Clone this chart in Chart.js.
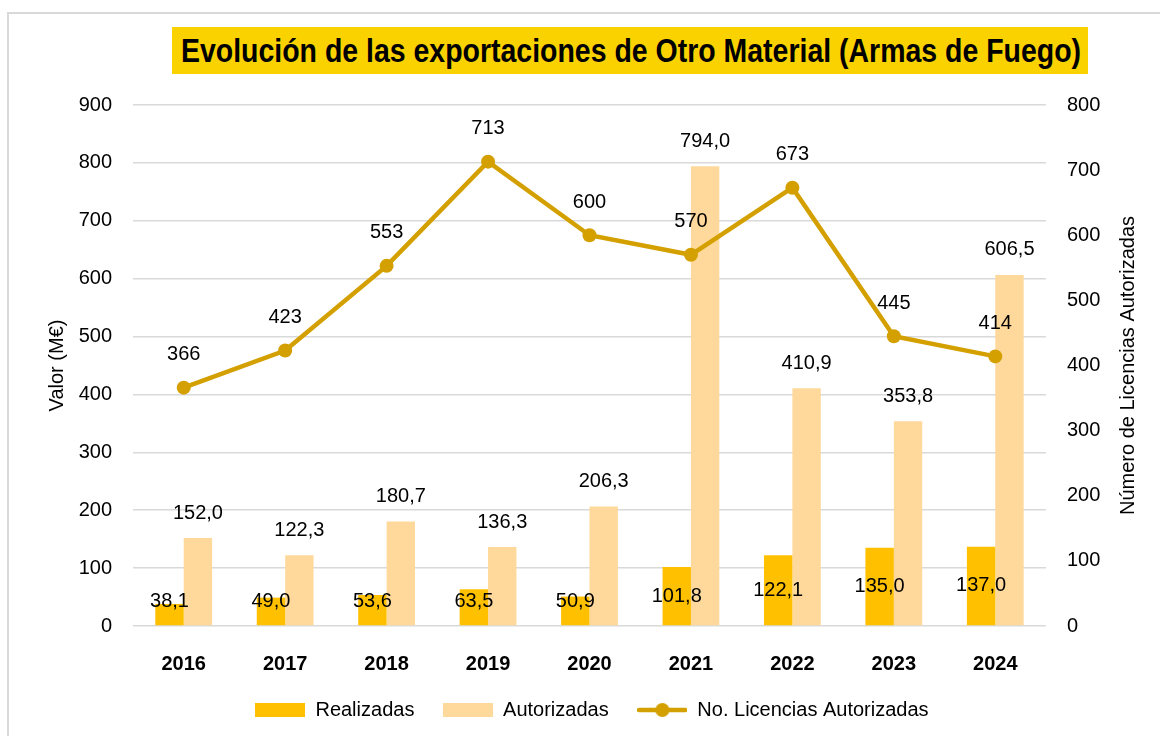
<!DOCTYPE html>
<html>
<head>
<meta charset="utf-8">
<script src="https://cdn.jsdelivr.net/npm/chart.js@4"></script>
<style>
  html, body { margin: 0; padding: 0; background: #fff; overflow: hidden; }
  #frame { position: absolute; left: 7px; top: 12px; width: 1200px; height: 800px; border: 2px solid #d9d9d9; box-sizing: border-box; }
  #title { position: absolute; left: 172px; top: 27px; width: 916px; height: 47px; background: #fad200; overflow: hidden;
    font-family: 'Liberation Sans', Arial, sans-serif; font-weight: bold;
    font-size: 33px; line-height: 47px; color: #000; white-space: nowrap; }
  #title span { display: inline-block; transform-origin: 0 50%; }
  #wrap { position: absolute; left: 0; top: 0; width: 1160px; height: 736px; }
</style>
</head>
<body>
<div id="frame"></div>
<div id="wrap"><canvas id="myChart"></canvas></div>
<div id="title"><span id="titleText">Evolución de las exportaciones de Otro Material (Armas de Fuego)</span></div>
<script>
const years = ["2016", "2017", "2018", "2019", "2020", "2021", "2022", "2023", "2024"];
const realizadas = [38.1, 49.0, 53.6, 63.5, 50.9, 101.8, 122.1, 135.0, 137.0];
const autorizadas = [152.0, 122.3, 180.7, 136.3, 206.3, 794.0, 410.9, 353.8, 606.5];
const licencias = [366, 423, 553, 713, 600, 570, 673, 445, 414];
const valorTicks = [0, 100, 200, 300, 400, 500, 600, 700, 800, 900];
const licenciasTicks = [0, 100, 200, 300, 400, 500, 600, 700, 800];

const colorRealizadas = "#ffc000";
const colorAutorizadas = "#ffd99b";
const colorLinea = "#d4a000";
const fontFamily = "'Liberation Sans', Arial, sans-serif";

// squeeze the title like a narrow font: text runs from about x=181 to x=1081
const titleText = document.getElementById("titleText");
const titleScale = 900 / titleText.getBoundingClientRect().width;
titleText.style.transform = "translateX(9px) scaleX(" + titleScale + ")";

function boxImage(color) {
  const c = document.createElement("canvas");
  c.width = 50;
  c.height = 14;
  const ctx = c.getContext("2d");
  ctx.fillStyle = color;
  ctx.fillRect(0, 0, 50, 14);
  return c;
}

function lineImage(color) {
  const c = document.createElement("canvas");
  c.width = 50;
  c.height = 16;
  const ctx = c.getContext("2d");
  ctx.strokeStyle = color;
  ctx.lineWidth = 4.5;
  ctx.lineCap = "round";
  ctx.beginPath();
  ctx.moveTo(2, 8);
  ctx.lineTo(48, 8);
  ctx.stroke();
  ctx.fillStyle = color;
  ctx.beginPath();
  ctx.arc(25, 8, 7, 0, Math.PI * 2);
  ctx.fill();
  return c;
}

function comma(v) {
  return v.toFixed(1).replace(".", ",");
}

const labelPlugin = {
  id: "valueLabels",
  afterDatasetsDraw(chart) {
    const ctx = chart.ctx;
    const yL = chart.scales.y;
    ctx.save();
    ctx.fillStyle = "#000";
    ctx.font = "20px " + fontFamily;
    ctx.textAlign = "center";
    ctx.textBaseline = "middle";

    chart.getDatasetMeta(0).data.forEach((bar, i) => {
      const mid = (bar.y + bar.base) / 2;
      const y = Math.min(mid, yL.getPixelForValue(43));
      ctx.fillText(comma(realizadas[i]), bar.x, y);
    });
    chart.getDatasetMeta(1).data.forEach((bar, i) => {
      ctx.fillText(comma(autorizadas[i]), bar.x, bar.y - 25);
    });
    chart.getDatasetMeta(2).data.forEach((pt, i) => {
      ctx.fillText(String(licencias[i]), pt.x, pt.y - 33);
    });

    // right axis title reads bottom to top, like the left one
    const y1 = chart.scales.y1;
    ctx.translate(y1.right - 13, (y1.top + y1.bottom) / 2);
    ctx.rotate(-Math.PI / 2);
    ctx.fillText("Número de Licencias Autorizadas", 0, 0);
    ctx.restore();
  }
};

const data = {
  labels: years,
  datasets: [
    {
      label: "Realizadas",
      data: realizadas,
      backgroundColor: colorRealizadas,
      yAxisID: "y",
      order: 1,
      categoryPercentage: 0.56,
      barPercentage: 1,
    },
    {
      label: "Autorizadas",
      data: autorizadas,
      backgroundColor: colorAutorizadas,
      yAxisID: "y",
      order: 1,
      categoryPercentage: 0.56,
      barPercentage: 1,
    },
    {
      type: "line",
      label: "No. Licencias Autorizadas",
      data: licencias,
      borderColor: colorLinea,
      backgroundColor: colorLinea,
      borderWidth: 4.5,
      pointRadius: 7,
      pointHoverRadius: 8,
      pointBackgroundColor: colorLinea,
      pointBorderWidth: 0,
      yAxisID: "y1",
      order: 0,
    },
  ],
};

const legendImages = [boxImage(colorRealizadas), boxImage(colorAutorizadas), lineImage(colorLinea)];
const gap = "\u00a0\u00a0\u00a0";

const config = {
  type: "bar",
  data,
  plugins: [labelPlugin],
  options: {
    responsive: false,
    animation: false,
    layout: { padding: { left: 43, right: 19, top: 105, bottom: 6 } },
    plugins: {
      title: { display: false },
      legend: {
        position: "bottom",
        labels: {
          color: "#000",
          font: { family: fontFamily, size: 20 },
          usePointStyle: true,
          pointStyleWidth: 50,
          padding: 12,
          generateLabels(chart) {
            const n = chart.data.datasets.length;
            return chart.data.datasets.map((ds, i) => ({
              text: i < n - 1 ? ds.label + gap : ds.label,
              pointStyle: legendImages[i],
              fillStyle: "transparent",
              strokeStyle: "transparent",
              lineWidth: 0,
              fontColor: "#000",
              hidden: !chart.isDatasetVisible(i),
              datasetIndex: i,
            }));
          },
        },
      },
    },
    scales: {
      x: {
        grid: { display: false },
        border: { display: false },
        ticks: { color: "#000", font: { family: fontFamily, size: 20, weight: "bold" }, padding: 18 },
        afterFit(scale) { scale.height = 62; },
      },
      y: {
        position: "left",
        min: 0,
        max: 900,
        afterBuildTicks(scale) { scale.ticks = valorTicks.map(v => ({ value: v })); },
        grid: { color: "#d9d9d9", lineWidth: 1.5, drawTicks: false },
        border: { display: false },
        ticks: { color: "#000", font: { family: fontFamily, size: 20 }, padding: 21 },
        title: { display: true, text: "Valor (M€)", color: "#000", font: { family: fontFamily, size: 20 }, padding: { top: 2, bottom: 0 } },
        afterFit(scale) { scale.width = 90; },
      },
      y1: {
        position: "right",
        min: 0,
        max: 800,
        afterBuildTicks(scale) { scale.ticks = licenciasTicks.map(v => ({ value: v })); },
        grid: { drawOnChartArea: false, drawTicks: false },
        border: { display: false },
        ticks: { color: "#000", font: { family: fontFamily, size: 20 }, padding: 21 },
        afterFit(scale) { scale.width = 95; },
      },
    },
  },
};

const canvas = document.getElementById("myChart");
canvas.width = 1160;
canvas.height = 736;
canvas.style.width = "1160px";
canvas.style.height = "736px";
const myChart = new Chart(canvas, config);
</script>
</body>
</html>
